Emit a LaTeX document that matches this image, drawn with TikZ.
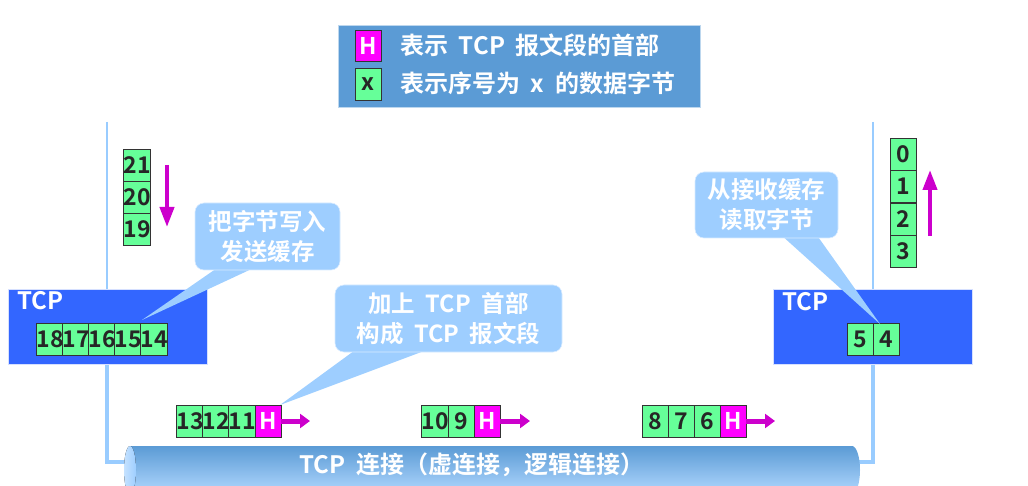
\documentclass[tikz,border=0pt]{standalone}
\usepackage{fontspec}
\setmainfont{Noto Sans CJK SC}[BoldFont={* Bold}]
\usetikzlibrary{arrows.meta}
\definecolor{cellg}{RGB}{102,255,153}
\definecolor{hmag}{RGB}{255,0,255}
\definecolor{amag}{RGB}{204,0,204}
\definecolor{tcpblue}{RGB}{51,102,255}
\definecolor{legblue}{RGB}{91,155,213}
\definecolor{callc}{RGB}{158,206,255}
\definecolor{linec}{RGB}{153,204,255}
\newcommand{\gapw}{\hspace{0.45em}}
\tikzset{
  cell/.style={draw=black!80, fill=cellg, minimum width=26pt, minimum height=32pt, inner sep=0pt,
    text=black!85, font=\bfseries\fontsize{23}{23}\selectfont},
  hcell/.style={cell, fill=hmag, text=white},
  wtext/.style={text=white, font=\bfseries\fontsize{24}{28}\selectfont, inner sep=0pt},
  tcpbox/.style={fill=tcpblue, draw=white!80!tcpblue, line width=0.8pt},
  callbox/.style={fill=callc, draw=white!60!callc, line width=0.6pt, rounded corners=9pt,
    inner sep=0pt, align=center, text=white, font=\bfseries\fontsize{23.5}{30}\selectfont},
  tail/.style={fill=callc, draw=none},
  harrow/.style={amag, line width=5pt, -{Triangle[length=10pt,width=14pt]}},
  varrow/.style={amag, line width=4pt, -{Triangle[length=20pt,width=14pt]}},
  thinline/.style={linec, line width=2pt},
  thickline/.style={linec, line width=4.5pt},
}
\begin{document}
\begin{tikzpicture}[x=1pt,y=-1pt]
\useasboundingbox (0,0) rectangle (1028,486);
% vertical lines
\coordinate (lt) at (107,122); \coordinate (lb) at (107,289);
\coordinate (rt) at (873,122); \coordinate (rb) at (873,289);
\draw[thinline] (lt) -- (lb);
\draw[thinline] (rt) -- (rb);
\coordinate (ld1) at (107,364); \coordinate (ld2) at (107,462); \coordinate (ld3) at (132,462);
\coordinate (rd1) at (873,364); \coordinate (rd2) at (873,462); \coordinate (rd3) at (852,462);
\draw[thickline] (ld1) -- (ld2) -- (ld3);
\draw[thickline] (rd1) -- (rd2) -- (rd3);

% legend
\node[fill=legblue, draw=white!60!legblue, line width=0.6pt, minimum width=362pt, minimum height=82pt, inner sep=0pt] (legend) at (519,66) {};
\node[hcell, minimum height=31pt] (lh) at (368,45.5) {H};
\node[cell, minimum height=32pt] (lx) at (368,84.5) {x};
\node[wtext, anchor=west] (lt1) at (400,45) {表示\gapw TCP\gapw 报文段的首部};
\node[wtext, anchor=west] (lt2) at (400,83) {表示序号为\gapw x\gapw 的数据字节};

% left TCP box
\node[tcpbox, minimum width=199pt, minimum height=75pt, inner sep=0pt] (ltcp) at (107.5,326.5) {};
\node[wtext, anchor=west] (ltcpl) at (17,301) {TCP};
\node[cell] (c18) at (50,339) {18};
\node[cell] (c17) at (76,339) {17};
\node[cell] (c16) at (102,339) {16};
\node[cell] (c15) at (128,339) {15};
\node[cell] (c14) at (154,339) {14};
% 21 20 19
\node[cell] (c21) at (137,165) {21};
\node[cell] (c20) at (137,197) {20};
\node[cell] (c19) at (137,229) {19};
\coordinate (la1) at (167,165); \coordinate (la2) at (167,227);
\draw[varrow] (la1) -- (la2);

% right TCP box
\node[tcpbox, minimum width=199pt, minimum height=75pt, inner sep=0pt] (rtcp) at (873,326.5) {};
\node[wtext, anchor=west] (rtcpl) at (782,302) {TCP};
\node[cell] (c5) at (860,339.5) {5};
\node[cell] (c4) at (886,339.5) {4};
\node[cell] (c0) at (903,154) {0};
\node[cell] (c1) at (903,186.5) {1};
\node[cell] (c2) at (903,219) {2};
\node[cell] (c3) at (903,251.5) {3};
\coordinate (ra1) at (930,236); \coordinate (ra2) at (930,170);
\draw[varrow] (ra1) -- (ra2);

% segments
\node[cell] (s13) at (190,421) {13};
\node[cell] (s12) at (216,421) {12};
\node[cell] (s11) at (242,421) {11};
\node[hcell] (sh1) at (268,421) {H};
\coordinate (e1) at (310,421);
\draw[harrow] (sh1.east) -- (e1);
\node[cell] (s10) at (435,421) {10};
\node[cell] (s9) at (461,421) {9};
\node[hcell] (sh2) at (487,421) {H};
\coordinate (e2) at (530,421);
\draw[harrow] (sh2.east) -- (e2);
\node[cell] (s8) at (655,421) {8};
\node[cell] (s7) at (681,421) {7};
\node[cell] (s6) at (707,421) {6};
\node[hcell] (sh3) at (733,421) {H};
\coordinate (e3) at (775,421);
\draw[harrow] (sh3.east) -- (e3);

% pipe
\shade[top color=legblue, bottom color=callc!80!white] (852,470) ellipse[x radius=8, y radius=24];
\shade[top color=legblue, bottom color=callc!80!white] (130,446) rectangle (852,494);
\fill[left color=callc!60!white, right color=callc] (130,470) ellipse[x radius=6, y radius=24];
\node[wtext] (pipe) at (472,465) {TCP\gapw 连接（虚连接，逻辑连接）};

% callouts
\coordinate (t1) at (142,320);
\fill[tail] (220,266) -- (t1) -- (258,266) -- cycle;
\node[callbox, minimum width=145pt, minimum height=67pt] (call1) at (267.5,236.5) {把字节写入\\发送缓存};
\fill[tail] (358,348) -- (280,405) -- (432,348) -- cycle;
\node[callbox, minimum width=227pt, minimum height=67pt] (call2) at (448.5,318.5) {加上\gapw TCP\gapw 首部\\构成\gapw TCP\gapw 报文段};
\coordinate (t3) at (880,324);
\fill[tail] (780,234) -- (t3) -- (816,234) -- cycle;
\node[callbox, minimum width=143pt, minimum height=66pt] (call3) at (766.5,205) {从接收缓存\\读取字节};
\end{tikzpicture}
\end{document}
